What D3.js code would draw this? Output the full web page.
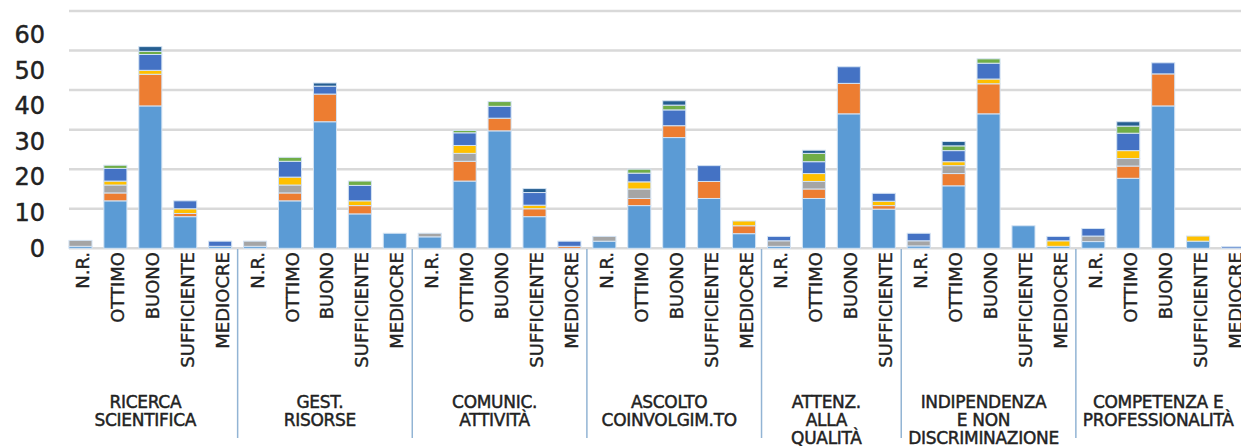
<!DOCTYPE html>
<html>
<head>
<meta charset="utf-8">
<script src="https://cdn.jsdelivr.net/npm/d3@7"></script>
<style>
  html, body { margin: 0; padding: 0; background: #fff; }
  svg { display: block; }
</style>
</head>
<body>
<svg id="chart" width="1241" height="446"></svg>
<script>
// Rating levels and the areas they belong to
const levels = ["N.R.", "OTTIMO", "BUONO", "SUFFICIENTE", "MEDIOCRE"];
const groups = [
  { name: ["RICERCA", "SCIENTIFICA"], levels: 5 },
  { name: ["GEST.", "RISORSE"], levels: 5 },
  { name: ["COMUNIC.", "ATTIVITÀ"], levels: 5 },
  { name: ["ASCOLTO", "COINVOLGIM.TO"], levels: 5 },
  { name: ["ATTENZ.", "ALLA", "QUALITÀ"], levels: 4 },
  { name: ["INDIPENDENZA", "E NON", "DISCRIMINAZIONE"], levels: 5 },
  { name: ["COMPETENZA E", "PROFESSIONALITÀ"], levels: 5 }
];

// Stacked series, one value per bar (group by group, level by level)
const serie1 = [0.5, 12, 36, 8, 0.5,   0.5, 12, 32, 8.7, 3.8,   2.9, 17, 29.7, 8, 0,
                1.8, 10.8, 28, 12.6, 3.7,   0.5, 12.6, 34, 9.9,   0.6, 15.8, 34, 5.7, 0.5,
                1.7, 17.7, 36, 1.8, 0];
const serie2 = [0, 2, 8, 0.8, 0,   0, 2, 7, 2.1, 0,   0, 5, 3.2, 2, 0.5,
                0, 1.8, 3, 4.3, 2,   0, 2.4, 7.7, 0.9,   0, 3.1, 7.6, 0, 0,
                0, 3.1, 8.1, 0, 0];
const serie3 = [1.5, 2, 0, 0, 0,   1.3, 2, 0, 0, 0,   0.9, 2, 0, 0, 0,
                1.2, 2.4, 0, 0, 0,   1.4, 1.9, 0, 0,   1.3, 2, 0, 0, 0,
                1.4, 1.9, 0, 0, 0];
const serie4 = [0, 1, 1, 1.2, 0,   0, 2, 0, 1.2, 0,   0, 2, 0, 0.9, 0,
                0, 1.8, 0, 0, 1.2,   0, 2, 0, 1.1,   0, 1, 1.2, 0, 1.4,
                0, 2, 0, 1.3, 0];
const serie5 = [0, 3.2, 4, 2, 1.3,   0, 4, 2, 3.9, 0,   0, 3.2, 3, 3.2, 1.3,
                0, 2.2, 4, 4, 0,   1.1, 3, 4.2, 2,   1.9, 2.8, 4, 0, 1.1,
                1.9, 4.4, 2.8, 0, 0.4];
const serie6 = [0, 0.8, 0.8, 0, 0,   0, 1, 0, 1.1, 0,   0, 0.6, 1.2, 0, 0,
                0, 1, 1.2, 0, 0,   0, 2.1, 0, 0,   0, 1.2, 1.1, 0, 0,
                0, 1.8, 0, 0, 0];
const serie7 = [0, 0, 1.2, 0, 0,   0, 0, 0.8, 0, 0,   0, 0, 0, 1, 0,
                0, 0, 1.1, 0, 0,   0, 0.8, 0, 0,   0, 1.1, 0, 0, 0,
                0, 1.1, 0, 0, 0];

const yTicks = [0, 10, 20, 30, 40, 50, 60];
const seriesKeys = ["s1", "s2", "s3", "s4", "s5", "s6", "s7"];
const seriesColors = ["#5B9BD5", "#ED7D31", "#A5A5A5", "#FFC000", "#4472C4", "#70AD47", "#255E91"];

// Build one row per bar
const rows = [];
groups.forEach((g, gi) => {
  for (let li = 0; li < g.levels; li++) {
    rows.push({ key: gi + "-" + li, group: gi, level: levels[li] });
  }
});
const allSeries = [serie1, serie2, serie3, serie4, serie5, serie6, serie7];
rows.forEach((r, i) => seriesKeys.forEach((k, si) => { r[k] = allSeries[si][i]; }));

const svg = d3.select("#chart");
const W = 1241;

const x = d3.scaleBand()
  .domain(rows.map(r => r.key))
  .range([63, 1250.5])
  .paddingInner(0.34)
  .paddingOuter(0.17);

const y = d3.scaleLinear().domain([0, 60]).range([248.3, 11]);
// value labels on the left sit on their own slightly tighter spacing
const yLabel = d3.scaleLinear().domain([0, 60]).range([247.5, 34]);

// Horizontal gridlines (including the baseline)
svg.append("g")
  .selectAll("line")
  .data(yTicks)
  .join("line")
  .attr("x1", 69).attr("x2", W)
  .attr("y1", d => y(d)).attr("y2", d => y(d))
  .attr("stroke", "#d9d9d9")
  .attr("stroke-width", 2.5);

// Y-axis labels
const yAxis = d3.axisLeft(yLabel).tickValues(yTicks).tickSize(0).tickPadding(0);
const gy = svg.append("g").attr("transform", "translate(45,0)").call(yAxis);
gy.select(".domain").remove();
gy.selectAll("text")
  .attr("font-family", "DejaVu Sans, sans-serif")
  .attr("font-size", 24)
  .attr("fill", "#222")
  .attr("stroke", "#222")
  .attr("stroke-width", 0.45)
  .attr("dy", "0.36em");

// Stacked bars
const stack = d3.stack().keys(seriesKeys);
const stacked = stack(rows);

svg.append("g")
  .selectAll("g")
  .data(stacked)
  .join("g")
  .attr("fill", (d, i) => seriesColors[i])
  .selectAll("rect")
  .data(d => d.filter(s => s[1] - s[0] > 0))
  .join("rect")
  .attr("x", d => x(d.data.key))
  .attr("width", x.bandwidth())
  .attr("y", d => y(d[1]))
  .attr("height", d => y(d[0]) - y(d[1]))
  .attr("stroke", "#d4e3f3")
  .attr("stroke-width", 1);

// Level labels under each bar
svg.append("g")
  .selectAll("text")
  .data(rows)
  .join("text")
  .attr("transform", d => `translate(${x(d.key) + x.bandwidth() / 2 + 8.5},252) rotate(-90)`)
  .attr("text-anchor", "end")
  .attr("font-family", "DejaVu Sans, sans-serif")
  .attr("font-size", 18)
  .attr("fill", "#222")
  .attr("stroke", "#222")
  .attr("stroke-width", 0.35)
  .text(d => d.level);

// Group separators and group names
const step = x.step();
const half = step * x.paddingInner() / 2;
let start = 0;
const bounds = groups.map(g => {
  const first = rows[start], last = rows[start + g.levels - 1];
  start += g.levels;
  return { g, x0: x(first.key) - half, x1: x(last.key) + x.bandwidth() + half };
});

svg.append("g")
  .selectAll("line")
  .data(bounds.slice(1))
  .join("line")
  .attr("x1", d => d.x0).attr("x2", d => d.x0)
  .attr("y1", 249).attr("y2", 438)
  .attr("stroke", "#92b4d4")
  .attr("stroke-width", 1.5);

const gLabels = svg.append("g");
bounds.forEach(b => {
  const cx = (b.x0 + b.x1) / 2 - 5;
  const t = gLabels.append("text")
    .attr("text-anchor", "middle")
    .attr("font-family", "DejaVu Sans, sans-serif")
    .attr("font-size", 17)
    .attr("fill", "#222")
    .attr("stroke", "#222")
    .attr("stroke-width", 0.45)
    .attr("letter-spacing", -0.3);
  b.g.name.forEach((line, i) => {
    t.append("tspan").attr("x", cx).attr("y", 408 + i * 18).text(line);
  });
});
</script>
</body>
</html>
